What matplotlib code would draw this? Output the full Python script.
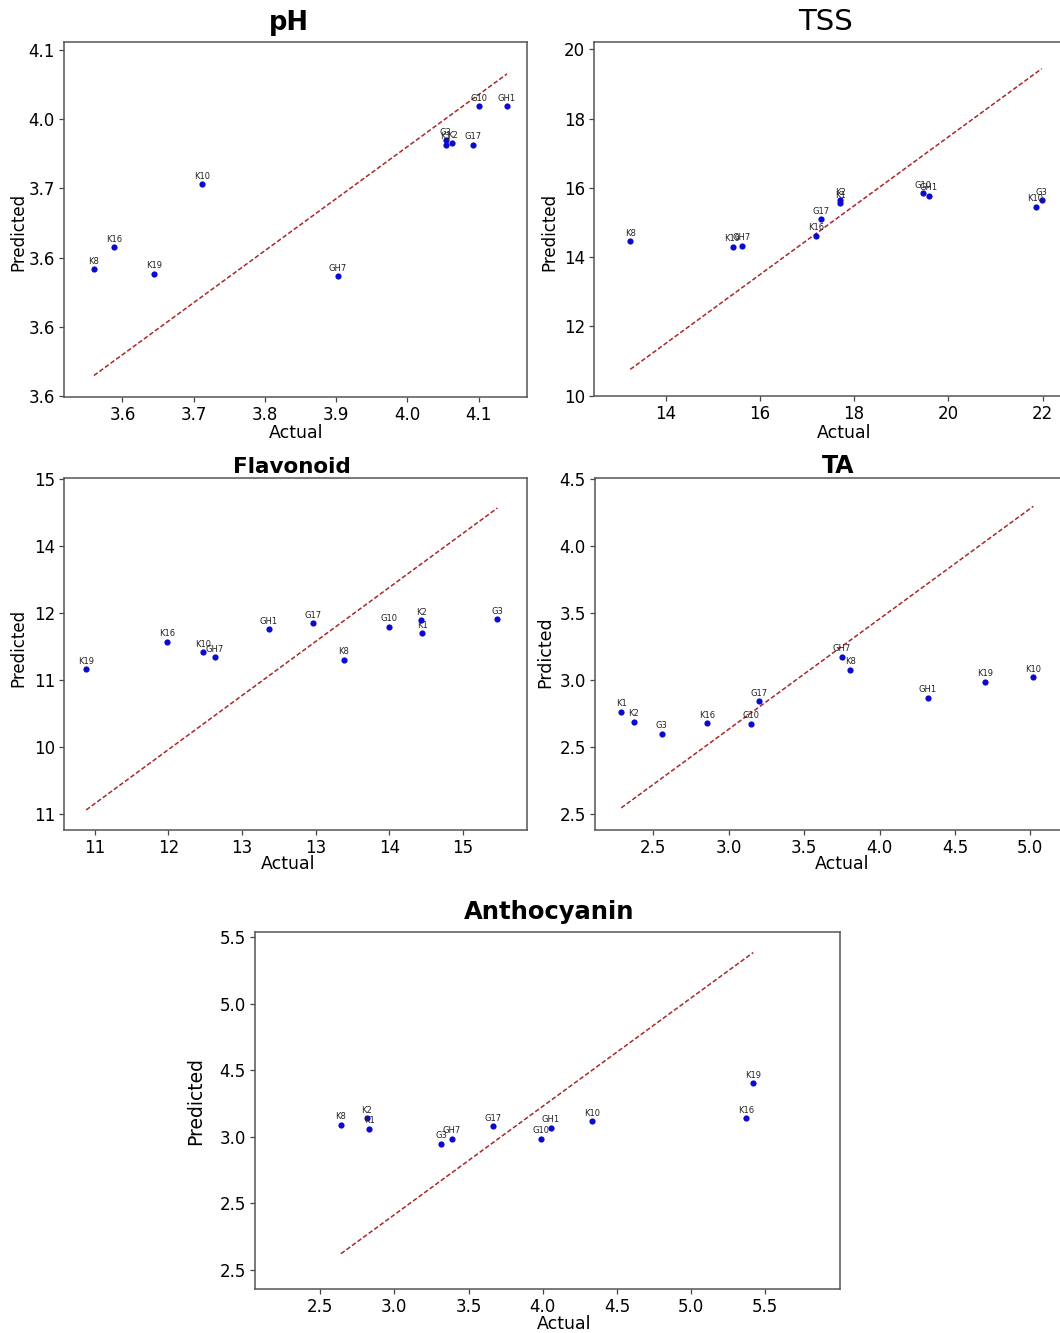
import matplotlib
matplotlib.use("Agg")
import matplotlib.pyplot as plt

plt.rcParams['font.family'] = ['DejaVu Sans']

W, H = 1060, 1333

# pH
ph_names = ["K8", "K16", "K19", "K10", "GH7", "G3", "K1", "K2", "G17", "G10", "GH1"]
ph_actual = [3.560, 3.588, 3.645, 3.712, 3.902, 4.054, 4.054, 4.063, 4.092, 4.101, 4.140]
ph_pred = [3.783, 3.815, 3.777, 3.906, 3.773, 3.969, 3.963, 3.965, 3.963, 4.018, 4.018]
ph_line_x = [3.560, 4.140]
ph_line_y = [3.630, 4.065]
ph_xticks = [3.6, 3.7, 3.8, 3.9, 4.0, 4.1]
ph_xticklabels = ["3.6", "3.7", "3.8", "3.9", "4.0", "4.1"]
ph_yticks = [3.6, 3.7, 3.8, 3.9, 4.0, 4.1]
ph_yticklabels = ["3.6", "3.6", "3.6", "3.7", "4.0", "4.1"]

# TSS
tss_names = ["K8", "K19", "GH7", "K16", "G17", "K2", "K1", "G10", "GH1", "K10", "G3"]
tss_actual = [13.25, 15.42, 15.62, 17.20, 17.30, 17.70, 17.71, 19.47, 19.58, 21.85, 21.98]
tss_pred = [14.46, 14.30, 14.33, 14.62, 15.09, 15.64, 15.55, 15.84, 15.77, 15.45, 15.64]
tss_line_x = [13.25, 21.98]
tss_line_y = [10.76, 19.44]
tss_xticks = [14, 16, 18, 20, 22]
tss_xticklabels = ["14", "16", "18", "20", "22"]
tss_yticks = [10, 12, 14, 16, 18, 20]
tss_yticklabels = ["10", "12", "14", "16", "18", "20"]

# Flavonoid
flav_names = ["K19", "K16", "K10", "GH7", "GH1", "G17", "K8", "G10", "K2", "K1", "G3"]
flav_actual = [10.885, 11.986, 12.468, 12.633, 13.362, 13.959, 14.381, 15.0, 15.431, 15.445, 16.468]
flav_pred = [12.164, 12.572, 12.418, 12.343, 12.761, 12.851, 12.303, 12.796, 12.891, 12.697, 12.905]
flav_line_x = [10.885, 16.468]
flav_line_y = [10.065, 14.567]
flav_xticks = [11, 12, 13, 14, 15, 16]
flav_xticklabels = ["11", "12", "13", "13", "14", "15"]
flav_yticks = [10, 11, 12, 13, 14, 15]
flav_yticklabels = ["11", "10", "11", "12", "14", "15"]

# TA
ta_names = ["K1", "K2", "G3", "K16", "G10", "G17", "GH7", "K8", "GH1", "K19", "K10"]
ta_actual = [2.287, 2.370, 2.556, 2.859, 3.148, 3.202, 3.751, 3.805, 4.321, 4.700, 5.020]
ta_pred = [2.764, 2.687, 2.600, 2.677, 2.672, 2.841, 3.172, 3.075, 2.868, 2.985, 3.020]
ta_line_x = [2.287, 5.020]
ta_line_y = [2.045, 4.296]
ta_xticks = [2.5, 3.0, 3.5, 4.0, 4.5, 5.0]
ta_xticklabels = ["2.5", "3.0", "3.5", "4.0", "4.5", "5.0"]
ta_yticks = [2.0, 2.5, 3.0, 3.5, 4.0, 4.5]
ta_yticklabels = ["2.5", "2.5", "3.0", "3.5", "4.0", "4.5"]

# Anthocyanin
anth_names = ["K8", "K2", "K1", "G3", "GH7", "G17", "G10", "GH1", "K10", "K16", "K19"]
anth_actual = [2.640, 2.813, 2.830, 3.316, 3.386, 3.667, 3.991, 4.056, 4.333, 5.371, 5.418]
anth_pred = [3.088, 3.138, 3.060, 2.945, 2.985, 3.078, 2.985, 3.068, 3.115, 3.138, 3.400]
anth_line_x = [2.640, 5.418]
anth_line_y = [2.120, 4.383]
anth_xticks = [2.5, 3.0, 3.5, 4.0, 4.5, 5.0, 5.5]
anth_xticklabels = ["2.5", "3.0", "3.5", "4.0", "4.5", "5.0", "5.5"]
anth_yticks = [2.0, 2.5, 3.0, 3.5, 4.0, 4.5]
anth_yticklabels = ["2.5", "2.5", "3.0", "4.5", "5.0", "5.5"]


def box(l, t, r, b):
    # pixel box -> figure fraction [left, bottom, width, height]
    return [l / W, 1 - b / H, (r - l) / W, (b - t) / H]


def fx(px):
    return px / W


def fy(py):
    return 1 - py / H


# tpos = (x centre, baseline y) of the title in pixels
panels = [
    dict(title="pH", names=ph_names, x=ph_actual, y=ph_pred, lx=ph_line_x, ly=ph_line_y,
         xt=ph_xticks, xtl=ph_xticklabels, yt=ph_yticks, ytl=ph_yticklabels,
         box=(64, 42, 527, 397), xlim=(3.518, 4.168), ylim=(3.599, 4.111),
         tpos=(289, 30), tsize=18.5, tweight="bold", ylab="Predicted", ysize=12,
         ylpos=(18, 232), xlpos=(296, 433)),
    dict(title="TSS", names=tss_names, x=tss_actual, y=tss_pred, lx=tss_line_x, ly=tss_line_y,
         xt=tss_xticks, xtl=tss_xticklabels, yt=tss_yticks, ytl=tss_yticklabels,
         box=(594, 42, 1062, 396), xlim=(12.48, 22.41), ylim=(9.99, 20.21),
         tpos=(825, 30), tsize=21, tweight="normal", ylab="Predicted", ysize=12,
         ylpos=(549, 232), xlpos=(844, 433)),
    dict(title="Flavonoid", names=flav_names, x=flav_actual, y=flav_pred, lx=flav_line_x, ly=flav_line_y,
         xt=flav_xticks, xtl=flav_xticklabels, yt=flav_yticks, ytl=flav_yticklabels,
         box=(64, 478, 527, 830), xlim=(10.584, 16.87), ylim=(9.766, 15.015),
         tpos=(292, 473), tsize=15.5, tweight="bold", ylab="Predicted", ysize=12,
         ylpos=(18, 648), xlpos=(288, 864)),
    dict(title="TA", names=ta_names, x=ta_actual, y=ta_pred, lx=ta_line_x, ly=ta_line_y,
         xt=ta_xticks, xtl=ta_xticklabels, yt=ta_yticks, ytl=ta_yticklabels,
         box=(595, 478, 1062, 830), xlim=(2.113, 5.21), ylim=(1.88, 4.507),
         tpos=(838, 473), tsize=17, tweight="bold", ylab="Prdicted", ysize=12.5,
         ylpos=(545, 652), xlpos=(842, 864)),
    dict(title="Anthocyanin", names=anth_names, x=anth_actual, y=anth_pred, lx=anth_line_x, ly=anth_line_y,
         xt=anth_xticks, xtl=anth_xticklabels, yt=anth_yticks, ytl=anth_yticklabels,
         box=(255, 932, 840, 1289), xlim=(2.061, 6.003), ylim=(1.855, 4.5375),
         tpos=(549, 919), tsize=17.5, tweight="bold", ylab="Predicted", ysize=13.5,
         ylpos=(196, 1101), xlpos=(564, 1324)),
]

fig = plt.figure(figsize=(W / 100, H / 100), dpi=100)

for p in panels:
    ax = fig.add_axes(box(*p["box"]))
    ax.plot(p["lx"], p["ly"], linestyle="--", color="#a8282a", linewidth=1.1, dashes=(3, 1.5))
    ax.scatter(p["x"], p["y"], s=20, color="#0a0ad0", zorder=3, linewidths=0)
    for name, xv, yv in zip(p["names"], p["x"], p["y"]):
        ax.annotate(name, (xv, yv), xytext=(0, 2.5), textcoords="offset points",
                    ha="center", va="bottom", fontsize=6, color="#222222")
    ax.set_xlim(*p["xlim"])
    ax.set_ylim(*p["ylim"])
    ax.set_xticks(p["xt"])
    ax.set_xticklabels(p["xtl"])
    ax.set_yticks(p["yt"])
    ax.set_yticklabels(p["ytl"])
    ax.tick_params(labelsize=12, length=3.5, width=0.9, color="#444444", pad=3)
    for s in ax.spines.values():
        s.set_color("#555555")
        s.set_linewidth(1.1)
    fig.text(fx(p["tpos"][0]), fy(p["tpos"][1]), p["title"], ha="center", va="baseline",
             fontsize=p["tsize"], fontweight=p["tweight"], zorder=5)
    fig.text(fx(p["ylpos"][0]), fy(p["ylpos"][1]), p["ylab"], ha="center", va="center",
             rotation=90, fontsize=p["ysize"])
    fig.text(fx(p["xlpos"][0]), fy(p["xlpos"][1]), "Actual", ha="center", va="center",
             fontsize=12.5)

fig.savefig("out.png", dpi=100)
